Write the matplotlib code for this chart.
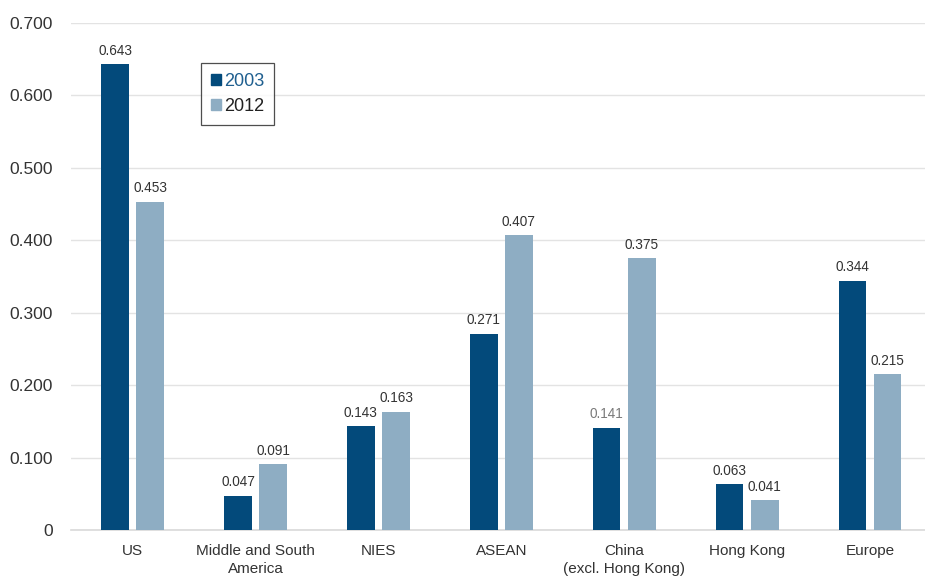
import numpy as np
import matplotlib
matplotlib.use("Agg")
import matplotlib.pyplot as plt
from matplotlib.patches import Patch

plt.rcParams['font.family'] = ['Liberation Sans', 'DejaVu Sans']

# data
regions = ["US", "Middle and South\nAmerica", "NIES", "ASEAN",
           "China\n(excl. Hong Kong)", "Hong Kong", "Europe"]
vals_2003 = [0.643, 0.047, 0.143, 0.271, 0.141, 0.063, 0.344]
vals_2012 = [0.453, 0.091, 0.163, 0.407, 0.375, 0.041, 0.215]
series_names = ["2003", "2012"]
yticks = [0, 0.1, 0.2, 0.3, 0.4, 0.5, 0.6, 0.7]
ytick_labels = ["0", "0.100", "0.200", "0.300", "0.400", "0.500", "0.600", "0.700"]

dark = "#034A7B"
light = "#8EADC3"

fig = plt.figure(figsize=(9.25, 5.76), dpi=100)
ax = fig.add_axes([0.077, 0.08, 0.93, 0.88])

x = np.arange(len(regions))
w = 0.225
off = 0.143
b1 = ax.bar(x - off, vals_2003, w, color=dark, zorder=3)
b2 = ax.bar(x + off, vals_2012, w, color=light, zorder=3)

for i, (r, v) in enumerate(zip(b1, vals_2003)):
    col = "#7A7A7A" if i == 4 else "#333333"
    ax.text(r.get_x() + r.get_width() / 2, v + 0.009, f"{v:.3f}",
            ha="center", va="bottom", fontsize=9.8, color=col)
for r, v in zip(b2, vals_2012):
    ax.text(r.get_x() + r.get_width() / 2, v + 0.009, f"{v:.3f}",
            ha="center", va="bottom", fontsize=9.8, color="#333333")

ax.set_xlim(-0.5, 6.5)
ax.set_ylim(0, 0.7)
ax.set_yticks(yticks)
ax.set_yticklabels(ytick_labels, fontsize=12.5, color="#333333")
ax.set_xticks(x)
ax.set_xticklabels(regions, fontsize=11, color="#333333", linespacing=1.4)
ax.tick_params(axis="both", length=0)
ax.tick_params(axis="x", pad=10)
ax.tick_params(axis="y", pad=13)

ax.grid(axis="y", color="#E3E3E3", linewidth=1, zorder=0)
for s in ["top", "right", "left"]:
    ax.spines[s].set_visible(False)
ax.spines["bottom"].set_color("#D9D9D9")
ax.spines["bottom"].set_linewidth(1.2)

handles = [Patch(color=dark), Patch(color=light)]
leg = ax.legend(handles, series_names, loc="upper left",
                bbox_to_anchor=(0.151, 0.921), frameon=True, fancybox=False,
                fontsize=13, handlelength=0.55, handleheight=0.55,
                handletextpad=0.15, borderpad=0.55, labelspacing=0.45,
                borderaxespad=0)
leg.get_frame().set_edgecolor("#222222")
leg.get_frame().set_linewidth(0.9)
leg.get_texts()[0].set_color("#1F5F8F")
leg.get_texts()[1].set_color("#222222")

fig.savefig("out.png", dpi=100)
